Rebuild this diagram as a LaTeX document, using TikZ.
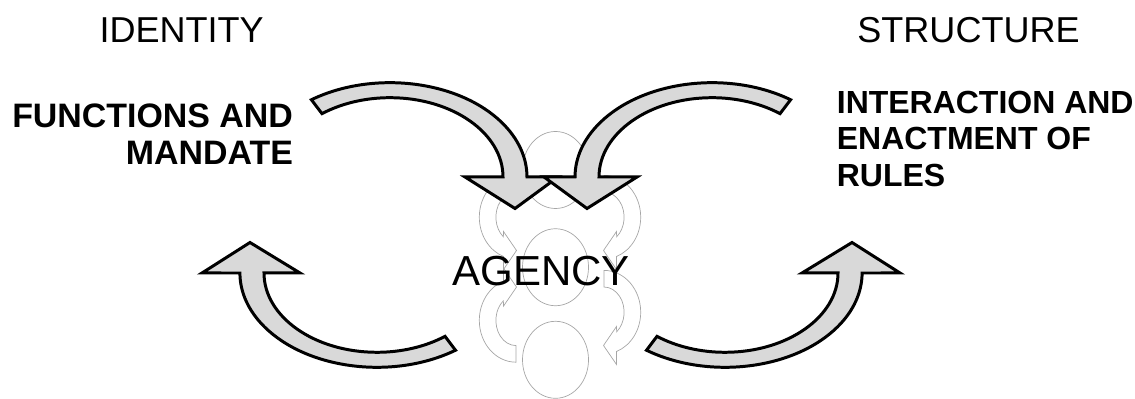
\documentclass[tikz,border=0pt]{standalone}
\usepackage{fontspec}
\setmainfont{Liberation Sans}
\usetikzlibrary{shapes.geometric}

\begin{document}
\begin{tikzpicture}[
    every node/.style={inner sep=0pt},
    hd/.style={anchor=base, font=\fontsize{20.5}{24}\selectfont},
    lbl/.style={font=\bfseries\fontsize{19.3}{21.6}\selectfont},
    lbr/.style={font=\bfseries\fontsize{18.2}{20.9}\selectfont},
    ring/.style={ellipse, draw=black!35, line width=0.4pt, minimum width=1.32cm, minimum height=1.54cm},
    small/.style={draw=black!35, line width=0.4pt, line join=miter},
    big/.style={draw=black, fill=black!15, line width=1.7pt, line join=miter}
]
\useasboundingbox (0,0) rectangle (22.7,7.98);
% centre figure
\node[ring] (top) at (11.11,4.58)  {};
\node[ring] (mid) at (11.11,2.635) {};
\node[ring] (bot) at (11.11,0.784) {};
\draw[small] (10.32,4.472) arc[start angle=90, end angle=250, x radius=0.734, y radius=0.836] -- (10.07,2.59) -- (10.33,2.97) -- (10.07,3.35) -- (10.067,3.244) arc[start angle=231, end angle=90, x radius=0.402, y radius=0.504] -- cycle;
\draw[small] (10.32,0.736) arc[start angle=270, end angle=110, x radius=0.734, y radius=0.836] -- (10.07,2.618) -- (10.33,2.238) -- (10.07,1.858) -- (10.067,1.964) arc[start angle=129, end angle=270, x radius=0.402, y radius=0.504] -- cycle;
\draw[small] (12.08,4.472) arc[start angle=90, end angle=-70, x radius=0.734, y radius=0.836] -- (12.33,2.59) -- (12.07,2.97) -- (12.33,3.35) -- (12.333,3.244) arc[start angle=-51, end angle=90, x radius=0.402, y radius=0.504] -- cycle;
\draw[small] (12.08,2.572) arc[start angle=90, end angle=-70, x radius=0.734, y radius=0.836] -- (12.33,0.69) -- (12.07,1.07) -- (12.33,1.45) -- (12.333,1.344) arc[start angle=-51, end angle=90, x radius=0.402, y radius=0.504] -- cycle;
% big arrows, top
\draw[big] (6.228,5.985) arc[start angle=125, end angle=0, x radius=2.74, y radius=1.886] -- (11.16,4.44) -- (10.3,3.81) -- (9.3,4.44) -- (10.06,4.44) arc[start angle=0, end angle=127, x radius=2.26, y radius=1.586] -- cycle;
\draw[big] (15.812,5.985) arc[start angle=55, end angle=180, x radius=2.74, y radius=1.886] -- (10.88,4.44) -- (11.74,3.81) -- (12.74,4.44) -- (11.98,4.44) arc[start angle=180, end angle=53, x radius=2.26, y radius=1.586] -- cycle;
% big arrows, bottom
\draw[big] (9.11,0.975) arc[start angle=305, end angle=180, x radius=2.74, y radius=1.886] -- (4.04,2.52) -- (5.0,3.13) -- (6.0,2.52) -- (5.28,2.52) arc[start angle=180, end angle=307, x radius=2.26, y radius=1.586] -- cycle;
\draw[big] (12.93,0.975) arc[start angle=235, end angle=360, x radius=2.74, y radius=1.886] -- (18.0,2.52) -- (17.04,3.13) -- (16.04,2.52) -- (16.76,2.52) arc[start angle=0, end angle=-127, x radius=2.26, y radius=1.586] -- cycle;
% labels
\node[hd] (ident)  at (3.634,7.126) {IDENTITY};
\node[hd] (struct) at (19.37,7.126) {STRUCTURE};
\node[lbl, anchor=base east, align=right] (func) at (5.867,4.68) {FUNCTIONS AND\\MANDATE};
\node[lbr, anchor=base west, align=left] (inter) at (16.73,4.246) {INTERACTION AND\\ENACTMENT OF\\RULES};
\node[anchor=base, font=\fontsize{23.9}{28}\selectfont] (agency) at (10.82,2.266) {AGENCY};
\end{tikzpicture}
\end{document}
